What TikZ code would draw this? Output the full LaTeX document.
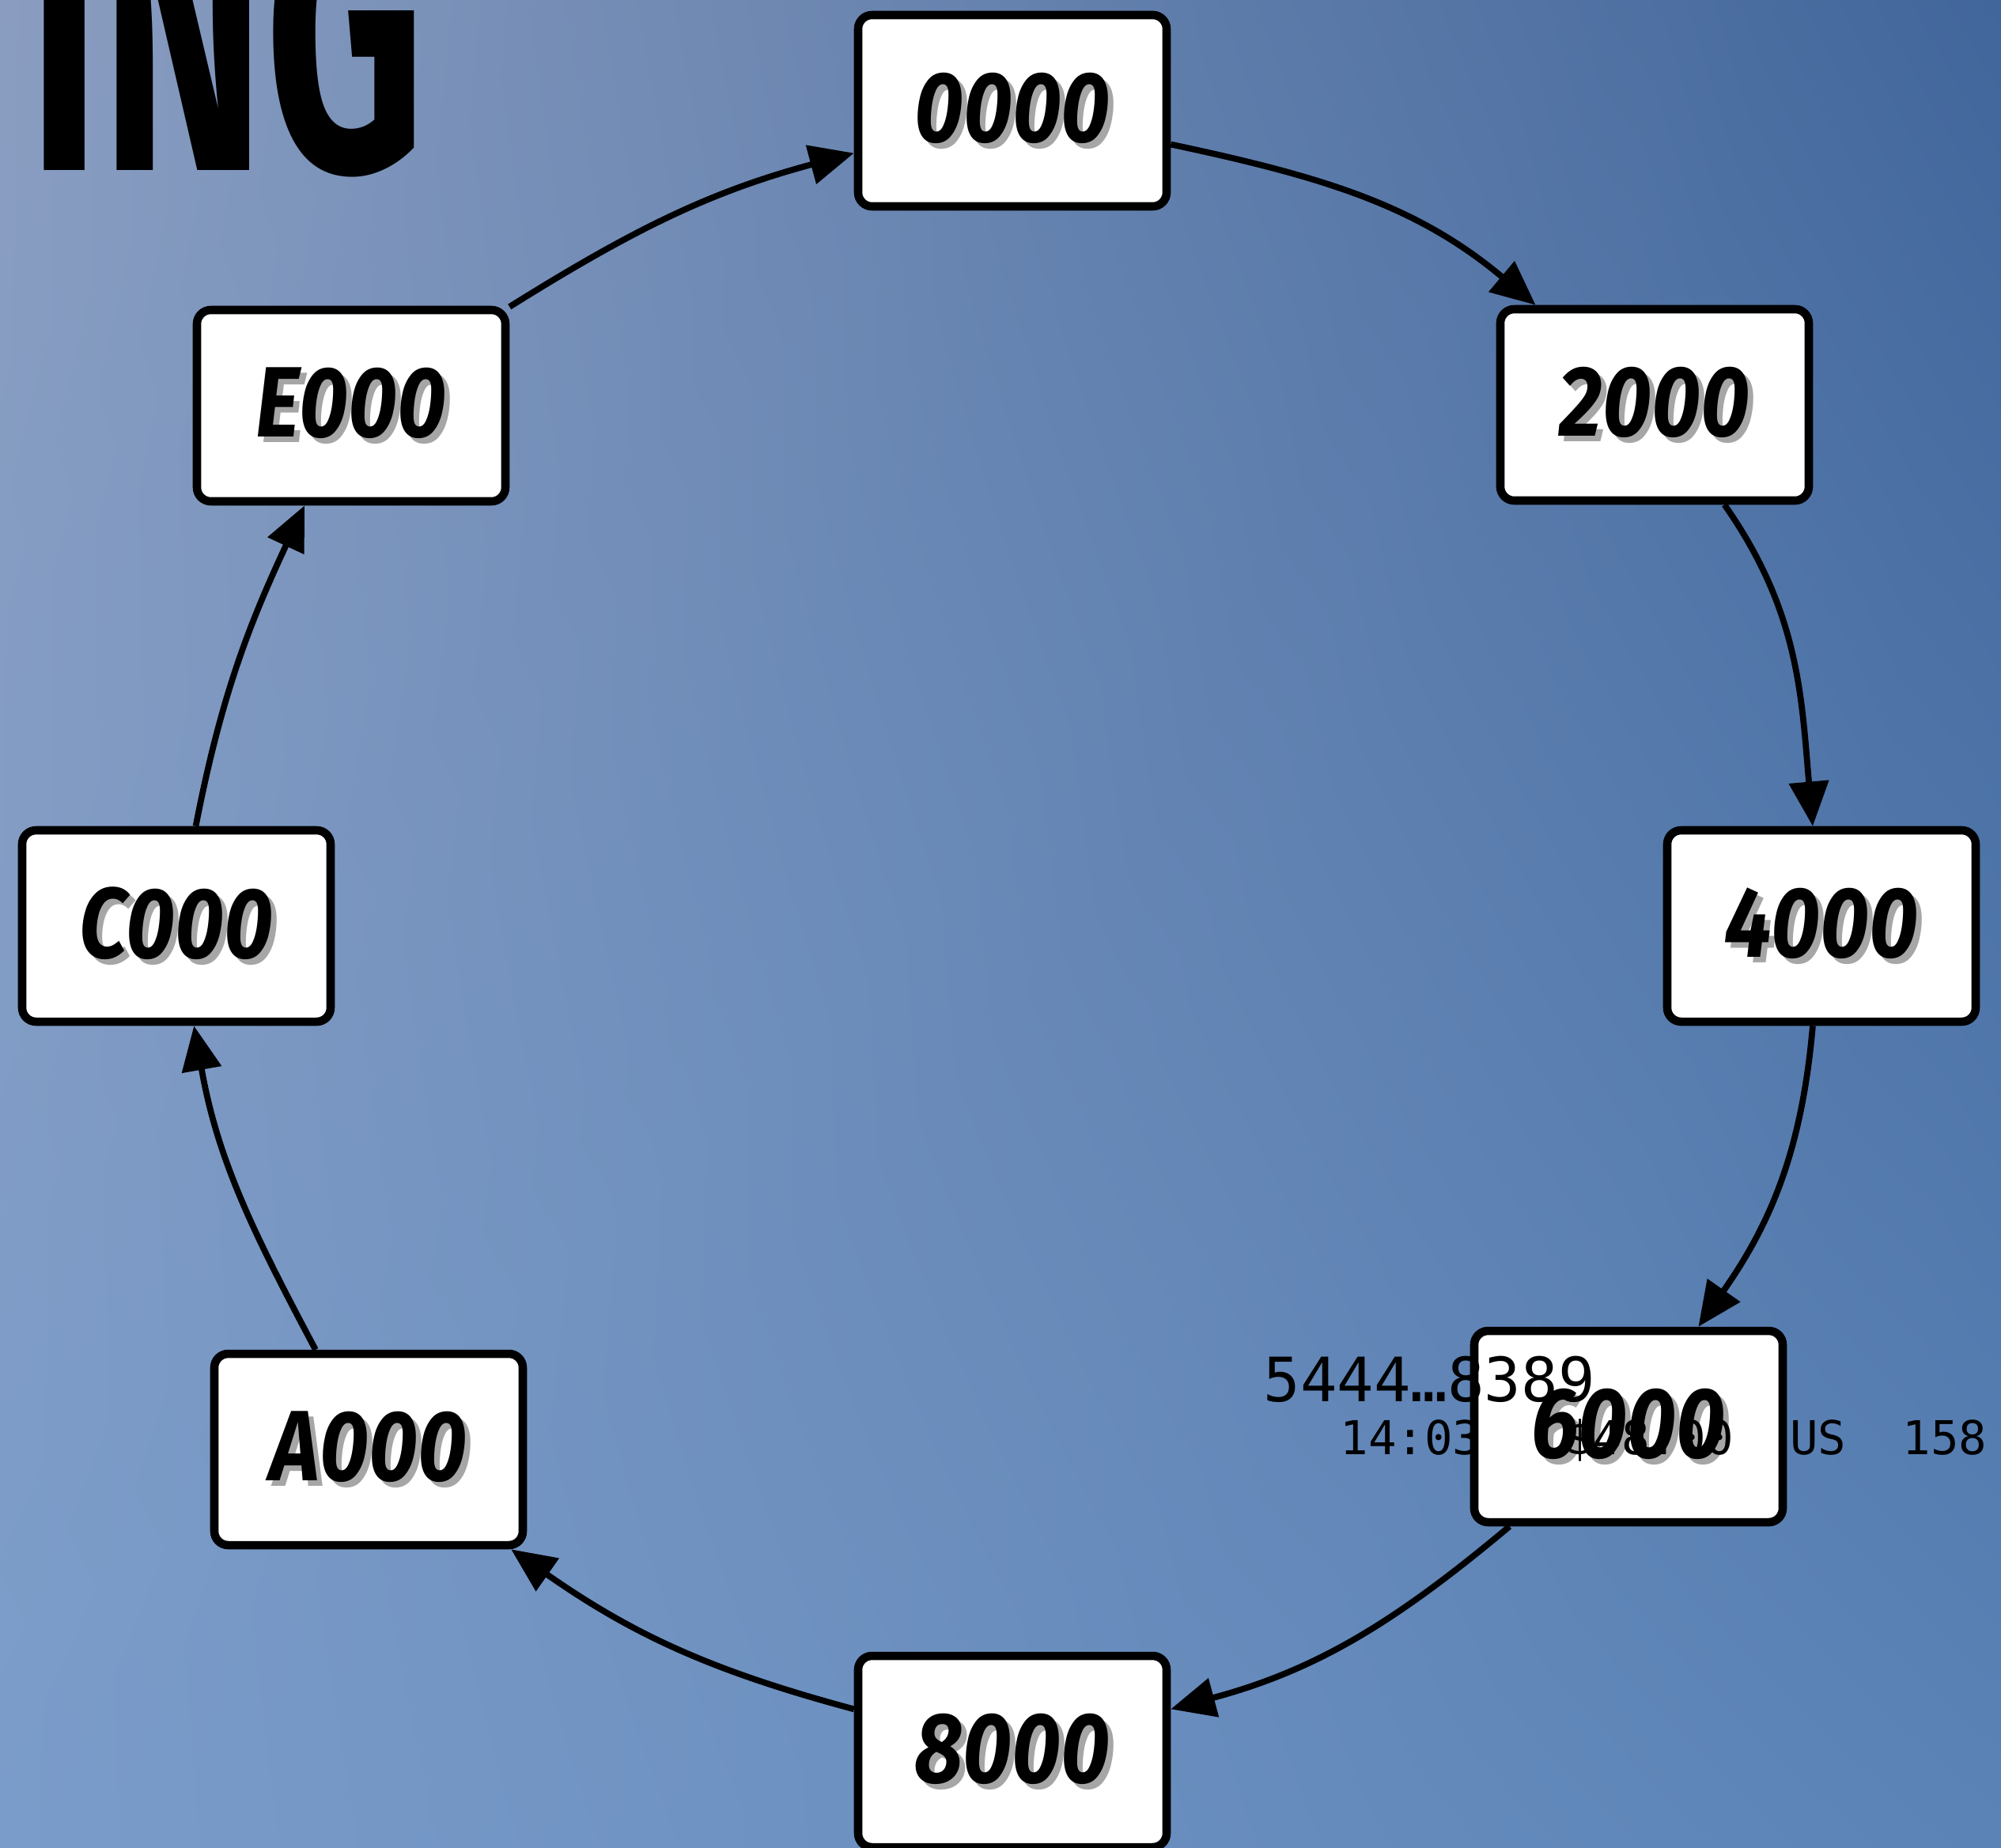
\documentclass[tikz,border=0pt]{standalone}
\usepackage{fontspec}
\usetikzlibrary{arrows.meta,shadings}
\newfontfamily\handfont[FakeStretch=0.85]{Fira Sans}
\newfontfamily\titlefont[FakeStretch=0.62]{Fira Sans}
\newfontfamily\receiptfont{DejaVu Sans Mono}
\definecolor{skyTL}{HTML}{8A9DC0}
\definecolor{skyTR}{HTML}{41669B}
\definecolor{skyBL}{HTML}{7A9CCA}
\definecolor{skyBR}{HTML}{5B83B6}
\newcommand{\ringlabel}[1]{\makebox[0pt][l]{\kern2pt\raisebox{-2pt}{\color{black!35}#1}}#1}
\tikzset{
  ringbox/.style={fill=white, draw=black, line width=3pt,
    minimum width=3.9cm, minimum height=2.42cm, inner sep=0pt,
    rounded corners=5pt,
    font=\handfont\bfseries\itshape\fontsize{36}{40}\selectfont},
  ringarrow/.style={line width=2.2pt, -{Triangle[length=16pt,width=14pt]}},
  receipt/.style={inner sep=0pt, anchor=base west, font=\receiptfont}
}
\begin{document}
\begin{tikzpicture}
  % sky background
  \useasboundingbox (0,0) rectangle (25.30,-23.37);
  \shade[upper left=skyTL, upper right=skyTR, lower left=skyBL, lower right=skyBR]
    (0,0) rectangle (25.30,-23.37);
  % title, cut off by the top edge
  \node[inner sep=0pt, anchor=base west, font=\titlefont\bfseries\fontsize{144}{144}\selectfont]
    (title) at (0.35,-2.15) {ING};
  % ring of hash slots
  \node[ringbox] (h0) at (12.80,-1.40)  {\ringlabel{0000}};
  \node[ringbox] (h2) at (20.92,-5.12)  {\ringlabel{2000}};
  \node[ringbox] (h4) at (23.03,-11.71) {\ringlabel{4000}};
  \node[ringbox] (h6) at (20.59,-18.04) {\ringlabel{6000}};
  \node[ringbox] (h8) at (12.80,-22.15) {\ringlabel{8000}};
  \node[ringbox] (hA) at (4.66,-18.33)  {\ringlabel{A000}};
  \node[ringbox] (hC) at (2.23,-11.71)  {\ringlabel{C000}};
  \node[ringbox] (hE) at (4.44,-5.13)   {\ringlabel{E000}};
  % clockwise links
  \draw[ringarrow] (h0) to[out=-12,in=140] (h2);
  \draw[ringarrow] (h2) to[out=-55,in=95]  (h4);
  \draw[ringarrow] (h4) to[out=-95,in=55]  (h6);
  \draw[ringarrow] (h6) to[out=-140,in=15] (h8);
  \draw[ringarrow] (h8) to[out=165,in=-35] (hA);
  \draw[ringarrow] (hA) to[out=118,in=-80] (hC);
  \draw[ringarrow] (hC) to[out=79,in=-115] (hE);
  \draw[ringarrow] (hE) to[out=32,in=-165] (h0);
  % stray receipt text over 6000
  \node[receipt, font=\receiptfont\fontsize{22}{24}\selectfont] (card) at (15.97,-17.72) {5444…8389};
  \node[receipt, font=\receiptfont\fontsize{16.8}{18}\selectfont] (stamp) at (16.94,-18.39) {14:03~~~\$48.00~~US~~158};
\end{tikzpicture}
\end{document}
